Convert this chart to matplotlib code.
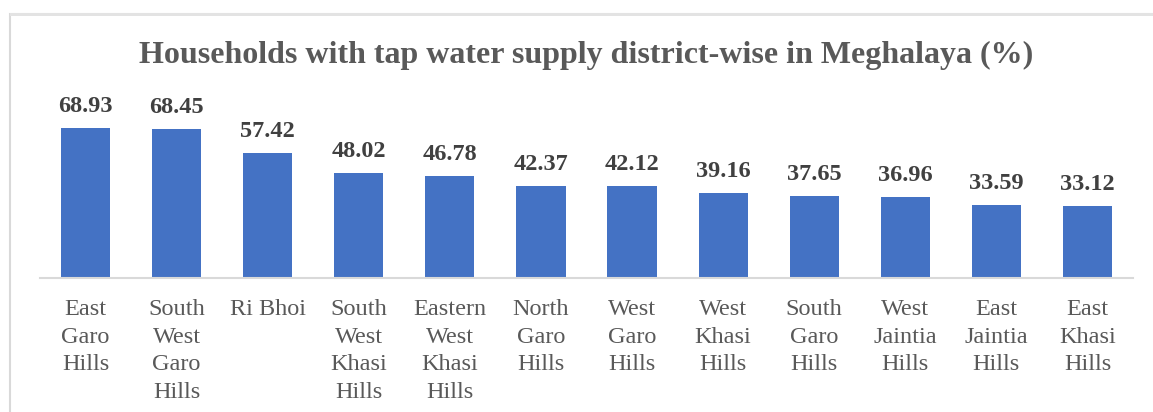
import matplotlib
matplotlib.use("Agg")
import matplotlib.pyplot as plt
from matplotlib.patches import Rectangle

districts = ["East\nGaro\nHills", "South\nWest\nGaro\nHills", "Ri Bhoi",
             "South\nWest\nKhasi\nHills", "Eastern\nWest\nKhasi\nHills",
             "North\nGaro\nHills", "West\nGaro\nHills", "West\nKhasi\nHills",
             "South\nGaro\nHills", "West\nJaintia\nHills", "East\nJaintia\nHills",
             "East\nKhasi\nHills"]
values = [68.93, 68.45, 57.42, 48.02, 46.78, 42.37, 42.12, 39.16, 37.65, 36.96, 33.59, 33.12]
title = "Households with tap water supply district-wise in Meghalaya (%)"

plt.rcParams['font.family'] = ['Liberation Serif', 'DejaVu Serif']

W, H = 1153, 412
fig = plt.figure(figsize=(W/100, H/100), dpi=100)

# chart border (partially cropped at right/bottom)
fig.add_artist(Rectangle((10/W, -0.05), 1.2, (H-14)/H + 0.05, transform=fig.transFigure,
                         facecolor='white', edgecolor='#d9d9d9', linewidth=1.5, zorder=-2))
fig.add_artist(Rectangle((10/W, (H-16)/H), 1.2, 3/H, transform=fig.transFigure,
                         facecolor='#e3e3e3', edgecolor='none', zorder=-1))

ax = fig.add_axes([40/W, (H-278)/H, 1093/W, (278-103.6)/H])
ax.set_zorder(1)
ax.set_facecolor('none')
x = list(range(len(values)))
bars = ax.bar(x, values, width=0.54, color='#4472C4', zorder=2)
ax.set_xlim(-0.5, len(values)-0.5)
ax.set_ylim(0, 80)
for xi, v in zip(x, values):
    ax.annotate(f"{v:.2f}", (xi, v), xytext=(0, 11.5), textcoords='offset points',
                ha='center', va='baseline', fontsize=17.5,
                fontweight='bold', color='#404040')
ax.set_xticks(x)
ax.set_xticklabels(districts, fontsize=17.5, color='#595959', linespacing=1.42, va='top')
ax.tick_params(axis='x', length=0, pad=15)
ax.set_yticks([])
for s in ['top', 'right', 'left']:
    ax.spines[s].set_visible(False)
ax.spines['bottom'].set_color('#d9d9d9')
ax.spines['bottom'].set_linewidth(1.5)

fig.text(586/W, (H-55)/H, title, ha='center', va='center', fontsize=23,
         fontweight='bold', color='#595959')

fig.savefig("out.png", dpi=100)
